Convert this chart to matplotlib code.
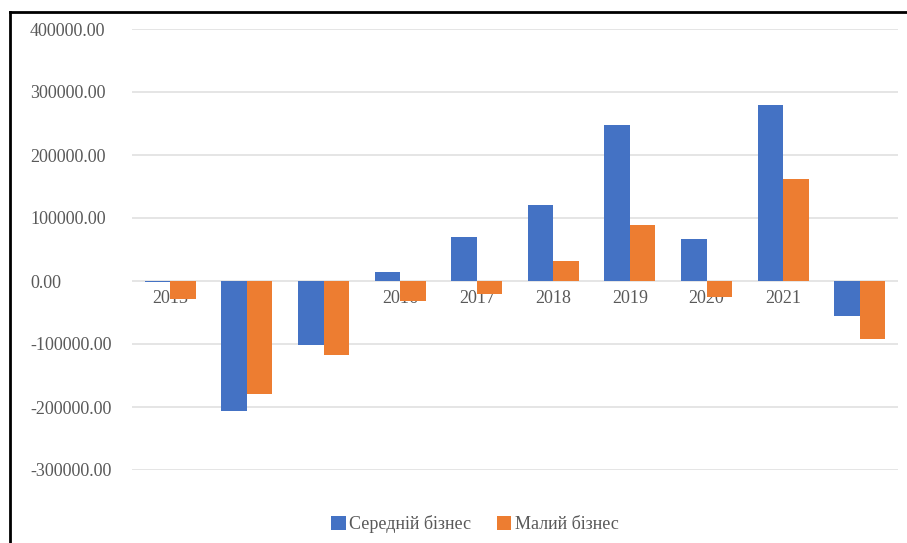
import matplotlib.pyplot as plt
from matplotlib.lines import Line2D

years = ["2013", "2014", "2015", "2016", "2017", "2018", "2019", "2020", "2021", "2022"]
medium = [-1500, -206000, -102000, 15000, 70500, 120000, 247500, 66000, 280000, -56000]
small = [-29000, -179000, -118000, -32000, -20000, 32000, 89500, -25000, 162500, -92500]
yticks = [-300000, -200000, -100000, 0, 100000, 200000, 300000, 400000]

plt.rcParams['font.family'] = ['Liberation Serif', 'DejaVu Serif']
fs = 13

fig = plt.figure(figsize=(9.07, 5.43), dpi=100)
ax = fig.add_axes([132/907, 1 - 470/543, (898 - 132)/907, (470 - 29)/543])

x = range(len(years))
w = 0.334
ax.bar([i - w/2 for i in x], medium, width=w, color="#4472C4", zorder=3, label="Середній бізнес")
ax.bar([i + w/2 for i in x], small, width=w, color="#ED7D31", zorder=3, label="Малий бізнес")

# category labels sit just under the zero line, behind the bars
for i, yr in zip(x, years):
    ax.annotate(yr, (i, 0), xytext=(0, -12.5), textcoords="offset points",
                ha="center", va="center", fontsize=fs, color="#595959", zorder=1)

ax.set_xlim(-0.5, len(years) - 0.5)
ax.set_ylim(-300000, 400000)
ax.set_yticks(yticks)
ax.set_yticklabels([f"{v:.2f}" for v in yticks])
ax.set_xticks([])
ax.tick_params(axis="y", length=0, pad=73.5, labelsize=fs, labelcolor="#595959")
for lbl in ax.get_yticklabels():
    lbl.set_horizontalalignment("left")
ax.grid(axis="y", color="#E0E0E0", linewidth=1.2, zorder=0)
ax.set_axisbelow(True)
for s in ax.spines.values():
    s.set_visible(False)

# outer frame (left and top edges visible)
fig.add_artist(Line2D([9.5/907, 9.5/907], [0, 1 - 12/543], color="black", linewidth=2))
fig.add_artist(Line2D([9.5/907, 1], [1 - 12/543, 1 - 12/543], color="black", linewidth=2))

fig.legend(loc="center", bbox_to_anchor=(475/907, 1 - 524/543), ncol=2, frameon=False,
           fontsize=fs, labelcolor="#595959", handlelength=0.8, handleheight=0.8,
           handletextpad=0.2, columnspacing=1.4)

fig.savefig("out.png", dpi=100)
